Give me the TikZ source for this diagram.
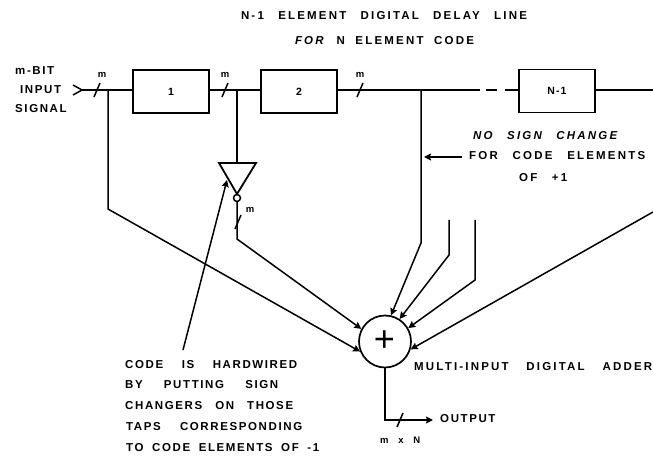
\documentclass[tikz,border=0pt]{standalone}
\usepackage{fontspec}
\setmainfont{Liberation Sans}[LetterSpace=10,WordSpace=1.0]
\newfontfamily\plainfont{Liberation Sans}
\newfontfamily\widefont{Liberation Sans}[LetterSpace=19,WordSpace=1.0]
\newfontfamily\midfont{Liberation Sans}[LetterSpace=14,WordSpace=1.0]
\usetikzlibrary{arrows.meta}
\tikzset{
  x=1pt,y=-1pt,
  wire/.style={line width=1.5pt,line join=miter},
  feed/.style={wire,-{Stealth[length=7pt,width=7pt,inset=1pt]}},
  delaybox/.style={draw,line width=1.8pt,minimum width=76pt,minimum height=43pt,inner sep=0pt,font=\fontsize{10.5}{12}\selectfont\bfseries},
  adder/.style={draw,circle,line width=1.7pt,minimum size=52pt,inner sep=0pt},
  lab/.style={inner sep=0pt,font=\widefont\fontsize{11.5}{13}\selectfont\bfseries},
  clab/.style={inner sep=0pt,font=\midfont\fontsize{11.5}{13}\selectfont\bfseries},
  ilab/.style={inner sep=0pt,font=\widefont\fontsize{11.5}{13}\selectfont\bfseries\itshape},
  mlab/.style={inner sep=0pt,font=\fontsize{9.5}{11}\selectfont\bfseries},
  tick/.style={line width=1.5pt}
}
\newcommand{\tickat}[2]{\draw[tick] (#1-3,#2+7) -- (#1+3,#2-7);}
\newcommand{\fitline}[2]{\makebox[#1pt][s]{#2}}
\begin{document}
\begin{tikzpicture}
\useasboundingbox (0,0) rectangle (653,457);
% boxes
\node[delaybox] (b1) at (171,91.5) {1};
\node[delaybox] (b2) at (299,91.5) {2};
\node[delaybox] (b3) at (557,91) {N-1};
\node[adder] (add) at (385,341.5) {};
\node[inner sep=0pt] (plus) at (384.5,341) {\plainfont\fontsize{36}{36}\selectfont +};
% coordinates
\coordinate (in) at (82,90);
\coordinate (j1) at (108,90);
\coordinate (j2) at (237,90);
\coordinate (j3) at (421,90);
\coordinate (d1) at (480,90);
\coordinate (d2) at (517.5,90);
\coordinate (k1) at (108,209);
\coordinate (k2) at (237,239);
\coordinate (k3) at (421,243);
\coordinate (t4) at (449,220);
\coordinate (k4) at (449,255);
\coordinate (t5) at (475,220);
\coordinate (k5) at (475,280);
\coordinate (r) at (653,90);
\coordinate (r2) at (653,212);
\coordinate (tl) at (219,163);
\coordinate (tr) at (256,163);
\coordinate (tb) at (237,194);
\coordinate (d3) at (486,90);
\coordinate (d4) at (497,90);
\coordinate (d5) at (505,90);
\node[draw,circle,line width=1.5pt,minimum size=7pt,inner sep=0pt] (bub) at (237,198) {};
\coordinate (o1) at (385,420);
\coordinate (o2) at (433,420);
\coordinate (p1) at (183,350);
\coordinate (p2) at (227,180);
\coordinate (q1) at (462,157);
\coordinate (q2) at (424,157);
% input chevron
\draw[wire] (73,85) -- (in) -- (73,95);
% delay line
\draw[wire] (in) -- (in -| b1.west);
\draw[wire] (b1.east |- in) -- (b2.west |- in);
\draw[wire] (b2.east |- in) -- (d1);
\draw[wire] (d3) -- (d4);
\draw[wire] (d5) -- (d2);
\draw[wire] (b3.east |- in) -- (r);
\tickat{97}{90}
\tickat{225}{90}
\tickat{360}{90}
\tickat{238}{222}
% taps
\draw[feed] (j1) -- (k1) -- (add.202);
\draw[wire] (j2) -- (j2 |- tl);
\draw[wire,line width=1.8pt] (tl) -- (tr) -- (tb) -- cycle;
\draw[feed] (bub) -- (k2) -- (add.152);
\draw[feed] (j3) -- (k3) -- (add.77);
\draw[feed] (t4) -- (k4) -- (add.57);
\draw[feed] (t5) -- (k5) -- (add.30);
\draw[feed] (r2) -- (add.-17);
% output
\draw[feed] (add.south) -- (o1) -- (o2);
\tickat{400}{420}
% annotation arrows
\draw[feed] (p1) -- (p2);
\draw[feed] (q1) -- (q2);
% labels
\node[lab] (t1) at (384,16) {\fitline{286}{N-1 ELEMENT DIGITAL DELAY LINE}};
\node[lab] (t2) at (384.5,41) {\fitline{179}{\textit{FOR} N ELEMENT CODE}};
\node[clab,anchor=west] (i1) at (15,71) {m-BIT};
\node[clab,anchor=west] (i2) at (20,90) {INPUT};
\node[clab,anchor=west] (i3) at (15,109) {SIGNAL};
\node[mlab] (m1) at (102,75) {m};
\node[mlab] (m2) at (225,75) {m};
\node[mlab] (m3) at (360,75) {m};
\node[mlab] (m4) at (250,210) {m};
\node[ilab,anchor=west] (n1) at (473,136) {\fitline{144}{NO SIGN CHANGE}};
\node[lab,anchor=west] (n2) at (469,156) {\fitline{176}{FOR CODE ELEMENTS}};
\node[lab,anchor=west] (n3) at (519,178) {\fitline{48}{OF +1}};
\node[clab,anchor=west] (c1) at (125,365) {\fitline{172}{CODE IS HARDWIRED}};
\node[clab,anchor=west] (c2) at (125,385) {\fitline{153}{BY PUTTING SIGN}};
\node[clab,anchor=west] (c3) at (125,406) {\fitline{168}{CHANGERS ON THOSE}};
\node[clab,anchor=west] (c4) at (126,427) {\fitline{176}{TAPS CORRESPONDING}};
\node[clab,anchor=west] (c5) at (126,448) {\fitline{193}{TO CODE ELEMENTS OF -1}};
\node[lab,anchor=west] (a1) at (414,367) {\fitline{238}{MULTI-INPUT DIGITAL ADDER}};
\node[clab,anchor=west] (o) at (440,419) {OUTPUT};
\node[mlab,anchor=west] (mn) at (380,440) {\fitline{40}{m x N}};
\end{tikzpicture}
\end{document}
